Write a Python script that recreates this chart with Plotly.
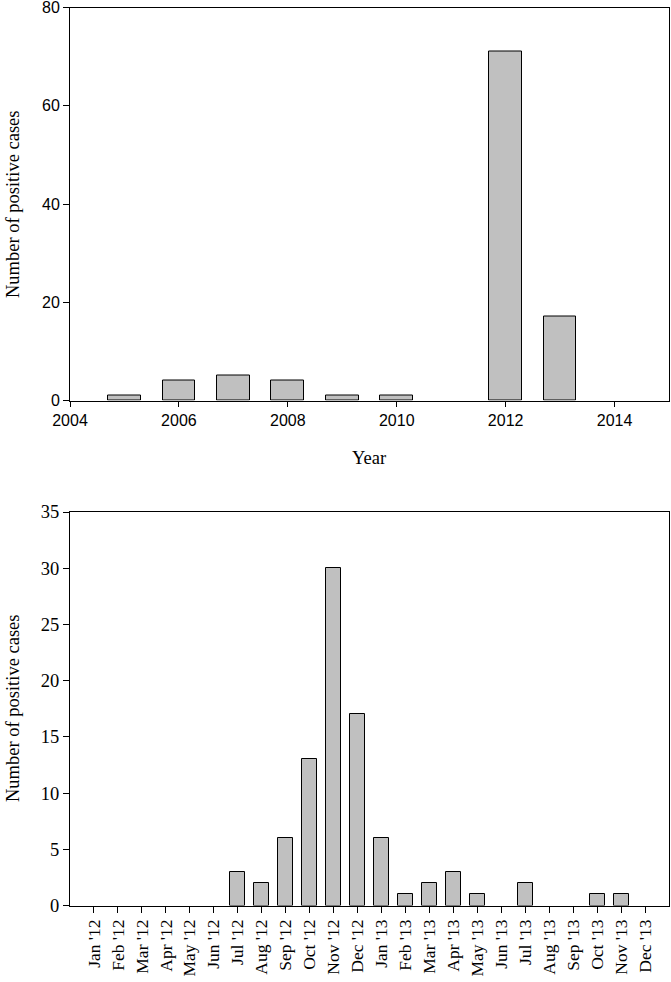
import plotly.graph_objects as go

# Top chart data
years = [2005, 2006, 2007, 2008, 2009, 2010, 2011, 2012, 2013, 2014]
year_cases = [1, 4, 5, 4, 1, 1, 0, 71, 17, 0]
year_ticks = [2004, 2006, 2008, 2010, 2012, 2014]
year_yticks = [0, 20, 40, 60, 80]

# Bottom chart data
months = ["Jan '12", "Feb '12", "Mar '12", "Apr '12", "May '12", "Jun '12",
          "Jul '12", "Aug '12", "Sep '12", "Oct '12", "Nov '12", "Dec '12",
          "Jan '13", "Feb '13", "Mar '13", "Apr '13", "May '13", "Jun '13",
          "Jul '13", "Aug '13", "Sep '13", "Oct '13", "Nov '13", "Dec '13"]
month_cases = [0, 0, 0, 0, 0, 0, 3, 2, 6, 13, 30, 17,
               6, 1, 2, 3, 1, 0, 2, 0, 0, 1, 1, 0]
month_yticks = [0, 5, 10, 15, 20, 25, 30, 35]

W, H = 671, 982
SERIF = "Liberation Serif, Times New Roman, serif"
SANS = "Liberation Sans, Arial, sans-serif"
BAR = "#c0c0c0"

def py(y):
    return 1 - y / H

# zero counts are drawn as no bar at all
fig = go.Figure()
fig.add_trace(go.Bar(x=years, y=[v if v else None for v in year_cases], width=0.6,
                     marker=dict(color=BAR, line=dict(color="black", width=1)),
                     xaxis="x", yaxis="y"))
fig.add_trace(go.Bar(x=list(range(len(months))), y=[v if v else None for v in month_cases],
                     width=0.62,
                     marker=dict(color=BAR, line=dict(color="black", width=1)),
                     xaxis="x2", yaxis="y2"))

xdom = [70 / W, 669 / W]
axis_common = dict(showline=True, linecolor="black", linewidth=1, mirror=True,
                   ticks="outside", tickcolor="black", tickwidth=1,
                   showgrid=False, zeroline=False, automargin=False,
                   ticklabeloverflow="allow")

fig.update_layout(
    template="none",
    width=W, height=H, margin=dict(l=0, r=0, t=0, b=0, autoexpand=False),
    paper_bgcolor="white", plot_bgcolor="white", showlegend=False,
    bargap=0,
    xaxis=dict(domain=xdom, anchor="y", range=[2004, 2015], ticklen=5,
               tickvals=year_ticks, tickfont=dict(family=SANS, size=16, color="black"),
               **axis_common),
    yaxis=dict(domain=[py(400.5), py(7.5)], anchor="x", range=[0, 80], ticklen=6,
               tickvals=year_yticks,
               tickfont=dict(family=SANS, size=16, color="black"), **axis_common),
    xaxis2=dict(domain=xdom, anchor="y2", range=[-1, 24], ticklen=6,
                tickvals=list(range(len(months))), ticktext=months, tickangle=-90,
                tickfont=dict(family=SERIF, size=17.5, color="black"), **axis_common),
    yaxis2=dict(domain=[py(905.5), py(512)], anchor="x2", range=[0, 35], ticklen=6,
                tickvals=month_yticks,
                tickfont=dict(family=SERIF, size=18.5, color="black"), **axis_common),
    annotations=[
        dict(text="Number of positive cases", x=13 / W, y=py(204), xref="paper", yref="paper",
             textangle=-90, showarrow=False, font=dict(family=SERIF, size=18.5, color="black"),
             xanchor="center", yanchor="middle"),
        dict(text="Year", x=369 / W, y=py(458), xref="paper", yref="paper",
             showarrow=False, font=dict(family=SERIF, size=18.5, color="black"),
             xanchor="center", yanchor="middle"),
        dict(text="Number of positive cases", x=13 / W, y=py(708), xref="paper", yref="paper",
             textangle=-90, showarrow=False, font=dict(family=SERIF, size=18.5, color="black"),
             xanchor="center", yanchor="middle"),
    ],
)

fig.write_html("out.html", config={"displayModeBar": False},
               post_script="document.body.style.margin='0';document.body.style.overflow='hidden';")
